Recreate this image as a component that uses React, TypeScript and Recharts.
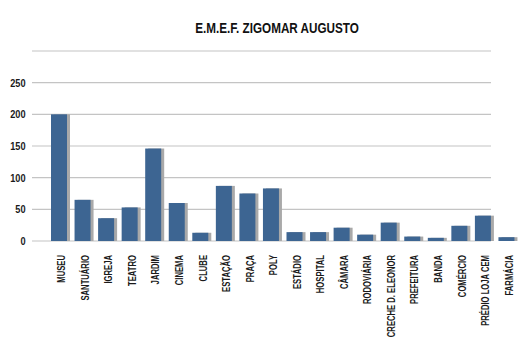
import { BarChart, Bar, XAxis, YAxis, CartesianGrid } from "recharts";

const categories = [
  "MUSEU", "SANTUÁRIO", "IGREJA", "TEATRO", "JARDIM", "CINEMA", "CLUBE",
  "ESTAÇÃO", "PRAÇA", "POLY", "ESTÁDIO", "HOSPITAL", "CÂMARA", "RODOVIÁRIA",
  "CRECHE D. ELEONOR", "PREFEITURA", "BANDA", "COMÉRCIO", "PRÉDIO LOJA CEM", "FARMÁCIA",
];
const visits = [200, 65, 36, 53, 146, 60, 13, 87, 75, 83, 14, 14, 21, 10, 29, 7, 5, 24, 40, 6];
const yTicks = [0, 50, 100, 150, 200, 250, 300];

const data = categories.map((name, i) => ({ name, value: visits[i] }));

// no condensed font installed, so Liberation Sans Bold squeezed horizontally
const FONT = "'Liberation Sans', Arial, sans-serif";
const BLUE = "#3d6592";
const SHADOW = "#a9a9a9";

// blue bar with a grey drop shadow on its right
const ShadowBar = (props: any) => {
  const { x, y, width, height } = props;
  if (!height || height <= 0) return null;
  const w = width - 3;
  return (
    <g>
      <rect x={x + 3} y={y} width={w} height={height} fill={SHADOW} />
      <rect x={x} y={y} width={w} height={height} fill={BLUE} />
    </g>
  );
};

const XTick = ({ x, y, payload }: any) => (
  <text
    transform={`translate(${x + 1},${y + 6}) rotate(-90) scale(0.73,1)`}
    textAnchor="end"
    dominantBaseline="central"
    fontFamily={FONT}
    fontWeight="bold"
    fontSize={10.5}
    fill="#1a1a1a"
  >
    {payload.value}
  </text>
);

const YTick = ({ y, payload }: any) =>
  payload.value === 300 ? null : (
    <text
      transform={`translate(25.5,${y + 4}) scale(0.8,1)`}
      textAnchor="end"
      fontFamily={FONT}
      fontWeight="bold"
      fontSize={11.5}
      fill="#1a1a1a"
    >
      {payload.value}
    </text>
  );

// gridlines start left of the bars and stop short of the last ones
const GridLine = (props: any) => (
  <line x1={32} x2={491} y1={props.y1} y2={props.y2} stroke="#c4c4c4" strokeWidth={1.2} />
);

export default function App() {
  return (
    <div style={{ position: "absolute", left: 0, top: 0, width: 528, height: 352, background: "#fff" }}>
      <BarChart
        width={528}
        height={352}
        data={data}
        margin={{ top: 51, right: 8, bottom: 11, left: 0 }}
        barCategoryGap={0}
        style={{ position: "absolute", left: 0, top: 0 }}
      >
        <CartesianGrid vertical={false} horizontal={GridLine} />
        <YAxis
          width={49}
          domain={[0, 300]}
          ticks={yTicks}
          axisLine={false}
          tickLine={false}
          tick={<YTick />}
          interval={0}
        />
        <XAxis
          dataKey="name"
          height={100}
          axisLine={false}
          tickLine={false}
          interval={0}
          tick={<XTick />}
        />
        <Bar dataKey="value" barSize={19} shape={<ShadowBar />} isAnimationActive={false} />
      </BarChart>
      <svg width={528} height={50} style={{ position: "absolute", left: 0, top: 0 }}>
        <text
          transform="translate(277,32.5) scale(0.78,1)"
          textAnchor="middle"
          fontFamily={FONT}
          fontWeight="bold"
          fontSize={15}
          fill="#111"
        >
          E.M.E.F. ZIGOMAR AUGUSTO
        </text>
      </svg>
    </div>
  );
}
